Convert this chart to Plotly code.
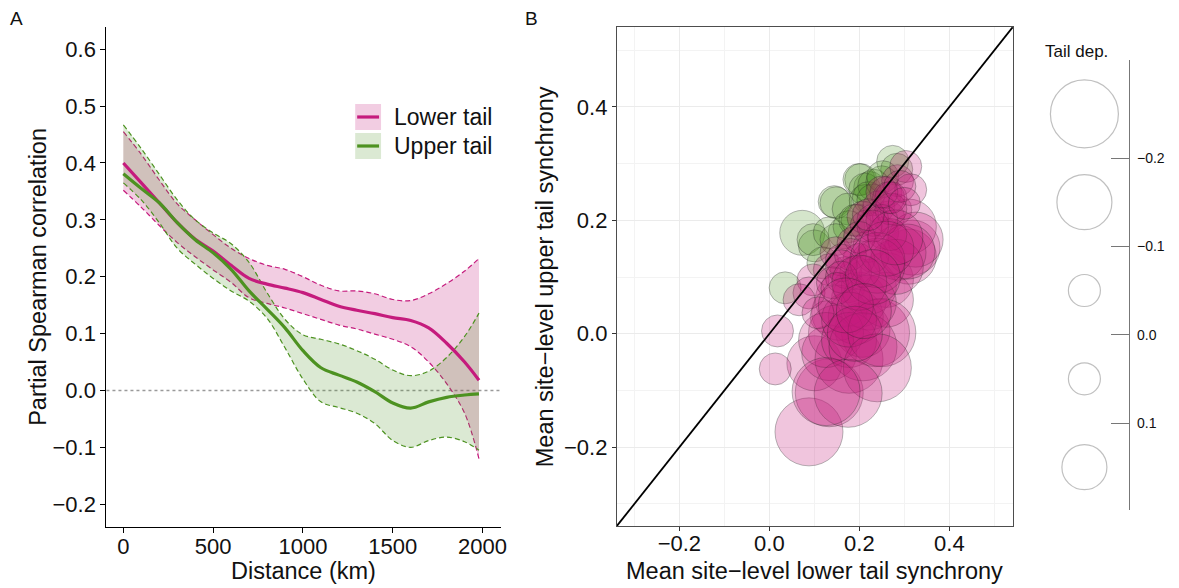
import numpy as np
import plotly.graph_objects as go

# ---------------- Panel A data ----------------
distance_km = [0, 100, 200, 300, 400, 500, 600, 700, 800, 900, 1000,
               1100, 1200, 1300, 1400, 1500, 1600, 1700, 1800, 1900, 1980]
lower_mean = [0.400, 0.365, 0.330, 0.295, 0.266, 0.245, 0.220, 0.197, 0.187, 0.180, 0.172,
              0.160, 0.148, 0.141, 0.135, 0.128, 0.123, 0.110, 0.083, 0.050, 0.018]
lower_hi = [0.455, 0.415, 0.370, 0.328, 0.300, 0.274, 0.250, 0.232, 0.220, 0.213, 0.200,
            0.185, 0.175, 0.175, 0.170, 0.160, 0.158, 0.170, 0.188, 0.210, 0.232]
lower_lo = [0.352, 0.322, 0.290, 0.260, 0.235, 0.212, 0.190, 0.163, 0.153, 0.145, 0.135,
            0.125, 0.115, 0.108, 0.099, 0.090, 0.077, 0.050, 0.012, -0.040, -0.120]
upper_mean = [0.381, 0.355, 0.330, 0.295, 0.265, 0.242, 0.213, 0.175, 0.143, 0.110, 0.070,
              0.040, 0.027, 0.015, -0.002, -0.022, -0.031, -0.020, -0.012, -0.008, -0.006]
upper_hi = [0.467, 0.425, 0.380, 0.335, 0.300, 0.277, 0.258, 0.225, 0.172, 0.125, 0.098,
            0.090, 0.082, 0.070, 0.055, 0.036, 0.026, 0.034, 0.058, 0.095, 0.136]
upper_lo = [0.365, 0.335, 0.295, 0.250, 0.222, 0.197, 0.175, 0.157, 0.127, 0.075, 0.020,
            -0.020, -0.030, -0.040, -0.058, -0.088, -0.100, -0.088, -0.082, -0.090, -0.105]
series_names = ["Lower tail", "Upper tail"]

# ---------------- Panel B data (site level) ----------------
site_lower = [0.073, 0.100, 0.035, 0.144, 0.148, 0.203, 0.223, 0.274, 0.283, 0.199,
              0.212, 0.166, 0.097, 0.133, 0.213, 0.232, 0.175, 0.220, 0.250,
              0.088, 0.133, 0.100, 0.133, 0.177, 0.236, 0.207, 0.259, 0.310, 0.318,
              0.177, 0.199, 0.163, 0.155, 0.126, 0.192, 0.170, 0.133, 0.221, 0.259,
              0.148, 0.186, 0.221, 0.252, 0.265, 0.243, 0.281, 0.259, 0.230, 0.208,
              0.177, 0.148, 0.119, 0.097, 0.088, 0.066, 0.310, 0.325, 0.287, 0.281,
              0.230, 0.199, 0.192, 0.221, 0.148, 0.126, 0.177, 0.208, 0.177, 0.018,
              0.013, 0.108, 0.252, 0.285, 0.303, 0.314, 0.250, 0.240, 0.175, 0.126,
              0.307, 0.270, 0.160, 0.215, 0.240, 0.195, 0.140, 0.265, 0.230,
              0.270, 0.250, 0.230, 0.200, 0.180, 0.160, 0.210, 0.240, 0.260, 0.280,
              0.220, 0.190, 0.160, 0.150, 0.200, 0.230, 0.170, 0.190, 0.210, 0.270,
              0.250, 0.290, 0.300]
site_upper = [0.178, 0.155, 0.081, 0.233, 0.231, 0.272, 0.258, 0.304, 0.290, 0.272,
              0.255, 0.178, 0.166, 0.178, 0.235, 0.262, 0.220, 0.240, 0.268,
              -0.173, -0.104, -0.052, -0.034, -0.045, 0.002, 0.007, 0.095, 0.136, 0.152,
              0.083, 0.060, 0.060, 0.037, 0.030, 0.030, 0.108, 0.113, 0.083, 0.060,
              0.143, 0.160, 0.154, 0.178, 0.206, 0.224, 0.219, 0.249, 0.236, 0.206,
              0.189, 0.166, 0.125, 0.095, 0.072, 0.060, 0.189, 0.166, 0.143, 0.118,
              0.136, 0.131, 0.108, 0.055, 0.002, -0.011, -0.011, -0.023, 0.025, 0.005,
              -0.062, 0.037, 0.277, 0.270, 0.295, 0.254, 0.002, -0.060, -0.105, -0.102,
              0.145, 0.175, 0.130, 0.190, 0.120, 0.200, 0.090, 0.240, 0.200,
              0.220, 0.200, 0.190, 0.170, 0.140, 0.120, 0.110, 0.130, 0.150, 0.170,
              0.210, 0.200, 0.100, 0.080, 0.090, 0.100, 0.050, 0.000, 0.040, 0.240,
              0.250, 0.260, 0.230]

# size legend: tail dependence values (bin midpoints) and axis ticks
legend_vals = [-0.25, -0.15, -0.05, 0.05, 0.15]
legend_ticks = [-0.2, -0.1, 0.0, 0.1]

# ---------------- styles ----------------
MAG = "#C51B7D"
GRN = "#4D9221"
MAG_FILL = "rgba(197,27,125,0.22)"
GRN_FILL = "rgba(77,146,33,0.20)"
FONT = "Liberation Sans, Arial, sans-serif"
SIZE_EDGES = [-0.2, -0.1, 0.0, 0.1]
SIZE_PX = [68, 55, 32, 32, 45]


def bubble_size(v):
    idx = np.digitize(np.asarray(v, dtype=float), SIZE_EDGES)
    return np.asarray(SIZE_PX)[idx]


W, H = 1179, 588


def px_x(p):
    return p / W


def px_y(p):
    return 1 - p / H


fig = go.Figure()

# ---- Panel A ribbons and lines ----
for name, lo, hi, mean, col, fillc in [
    (series_names[0], lower_lo, lower_hi, lower_mean, MAG, MAG_FILL),
    (series_names[1], upper_lo, upper_hi, upper_mean, GRN, GRN_FILL),
]:
    fig.add_trace(go.Scatter(x=distance_km, y=hi, mode="lines",
                             line=dict(color=col, width=1.2, dash="5px,3px", shape="spline"),
                             showlegend=False, hoverinfo="skip", xaxis="x", yaxis="y"))
    fig.add_trace(go.Scatter(x=distance_km, y=lo, mode="lines", fill="tonexty",
                             fillcolor=fillc,
                             line=dict(color=col, width=1.2, dash="5px,3px", shape="spline"),
                             showlegend=False, hoverinfo="skip", xaxis="x", yaxis="y"))
for name, mean, col in [(series_names[0], lower_mean, MAG), (series_names[1], upper_mean, GRN)]:
    fig.add_trace(go.Scatter(x=distance_km, y=mean, mode="lines", name=name,
                             line=dict(color=col, width=3.2, shape="spline"),
                             showlegend=False, xaxis="x", yaxis="y"))

# ---- Panel B bubbles ----
sl = np.array(site_lower)
su = np.array(site_upper)
dep = su - sl
sizes = bubble_size(dep)
green_mask = dep > 0
for mask, col in [(green_mask, "rgba(77,146,33,0.33)"), (~green_mask, "rgba(197,27,125,0.36)")]:
    fig.add_trace(go.Scatter(x=sl[mask], y=su[mask], mode="markers",
                             marker=dict(size=sizes[mask], sizemode="diameter", color=col,
                                         line=dict(color="rgba(30,30,30,0.45)", width=1)),
                             showlegend=False, xaxis="x2", yaxis="y2"))

xr = [-0.339, 0.541]
yr = [-0.339, 0.541]
fig.add_trace(go.Scatter(x=[-1, 1], y=[-1, 1], mode="lines",
                         line=dict(color="black", width=1.8),
                         showlegend=False, hoverinfo="skip", xaxis="x2", yaxis="y2"))

# ---- Size legend ----
fig.add_trace(go.Scatter(x=[0.47] * len(legend_vals), y=legend_vals, mode="markers",
                         marker=dict(size=bubble_size(legend_vals), sizemode="diameter",
                                     color="rgba(255,255,255,0)",
                                     line=dict(color="#a6a6a6", width=1.2)),
                         showlegend=False, hoverinfo="skip", xaxis="x3", yaxis="y3"))

tickfont = dict(family=FONT, size=22, color="#111111")
titlefont = dict(family=FONT, size=23.5, color="#111111")

fig.update_layout(
    width=W, height=H,
    margin=dict(l=0, r=0, t=0, b=0),
    paper_bgcolor="white", plot_bgcolor="white",
    font=dict(family=FONT, color="#111111"),
    showlegend=False,
    xaxis=dict(domain=[px_x(107), px_x(504)], range=[-94, 2105], anchor="y",
               tickvals=[0, 500, 1000, 1500, 2000], showgrid=False, zeroline=False,
               showline=True, linecolor="black", linewidth=1.3,
               ticks="outside", ticklen=5, tickwidth=1.3, tickcolor="black",
               ticklabelstandoff=-6, tickfont=tickfont),
    yaxis=dict(domain=[px_y(527), px_y(27)], range=[-0.24, 0.639], anchor="x",
               tick0=0, dtick=0.1, tickformat=".1f", showgrid=False, zeroline=False,
               showline=True, linecolor="black", linewidth=1.3,
               ticks="outside", ticklen=5, tickwidth=1.3, tickcolor="black",
               tickfont=tickfont),
    xaxis2=dict(domain=[px_x(620), px_x(1018)], range=xr, anchor="y2",
                tick0=0, dtick=0.2, tickformat=".1f", zeroline=False,
                showgrid=True, gridcolor="#ebebeb", gridwidth=1.2,
                minor=dict(dtick=0.1, tick0=0, showgrid=True, gridcolor="#f3f3f3",
                           gridwidth=0.7, ticks=""),
                showline=True, mirror=True, linecolor="#4d4d4d", linewidth=1,
                ticks="outside", ticklen=4, tickwidth=1, tickcolor="#333333",
                ticklabelstandoff=-6, tickfont=tickfont),
    yaxis2=dict(domain=[px_y(526), px_y(27)], range=yr, anchor="x2",
                tick0=0, dtick=0.2, tickformat=".1f", zeroline=False,
                showgrid=True, gridcolor="#ebebeb", gridwidth=1.2,
                minor=dict(dtick=0.1, tick0=0, showgrid=True, gridcolor="#f3f3f3",
                           gridwidth=0.7, ticks=""),
                showline=True, mirror=True, linecolor="#4d4d4d", linewidth=1,
                ticks="outside", ticklen=4, tickwidth=1, tickcolor="#333333",
                tickfont=tickfont),
    xaxis3=dict(domain=[px_x(1050), px_x(1135)], range=[0, 1], anchor="y3", visible=False,
                fixedrange=True),
    yaxis3=dict(domain=[px_y(510), px_y(60)], range=[0.1985, -0.311], anchor="x3",
                side="right", tickvals=legend_ticks, tickformat=".1f",
                showgrid=False, zeroline=False, showline=True, linecolor="#777777", linewidth=1,
                ticks="inside", ticklen=18, tickwidth=1, tickcolor="#777777",
                ticklabelstandoff=4,
                tickfont=dict(family=FONT, size=14, color="#111111")),
)

# zero reference line (panel A)
fig.add_shape(type="line", xref="x domain", yref="y", x0=0, x1=1, y0=0, y1=0,
              line=dict(color="#9a9a9a", width=1.4, dash="dot"), layer="below")

# axis titles
for text, x, y, ang in [
    ("Distance (km)", 305, 571, 0),
    ("Partial Spearman correlation", 38, 277, -90),
    ("Mean site\u2212level lower tail synchrony", 819, 571, 0),
    ("Mean site\u2212level upper tail synchrony", 548, 277, -90),
]:
    fig.add_annotation(text=text, xref="paper", yref="paper", x=px_x(x), y=px_y(y),
                       xanchor="center", yanchor="middle", showarrow=False, textangle=ang,
                       font=titlefont)

# manual legend for panel A
legend_items = [(series_names[0], MAG, MAG_FILL, 104), (series_names[1], GRN, GRN_FILL, 133)]
for name, col, fillc, top in legend_items:
    fig.add_shape(type="rect", xref="paper", yref="paper",
                  x0=px_x(357), x1=px_x(383), y0=px_y(top + 26), y1=px_y(top),
                  fillcolor=fillc, line=dict(width=0))
    fig.add_shape(type="line", xref="paper", yref="paper",
                  x0=px_x(359), x1=px_x(381), y0=px_y(top + 13), y1=px_y(top + 13),
                  line=dict(color=col, width=3.2))
    fig.add_annotation(text=name, xref="paper", yref="paper", x=px_x(394), y=px_y(top + 13),
                       xanchor="left", yanchor="middle", showarrow=False,
                       font=dict(family=FONT, size=23, color="#111111"))

# panel labels & size legend title
fig.add_annotation(text="A", xref="paper", yref="paper", x=px_x(17), y=px_y(18),
                   xanchor="center", yanchor="middle", showarrow=False,
                   font=dict(family=FONT, size=19, color="#111111"))
fig.add_annotation(text="B", xref="paper", yref="paper", x=px_x(534), y=px_y(18),
                   xanchor="center", yanchor="middle", showarrow=False,
                   font=dict(family=FONT, size=19, color="#111111"))
fig.add_annotation(text="Tail dep.", xref="paper", yref="paper", x=px_x(1048), y=px_y(52),
                   xanchor="left", yanchor="middle", showarrow=False,
                   font=dict(family=FONT, size=17, color="#111111"))

fig.write_html("out.html",
               config={"displayModeBar": False},
               post_script="document.body.style.margin='0';document.body.style.overflow='hidden';")
